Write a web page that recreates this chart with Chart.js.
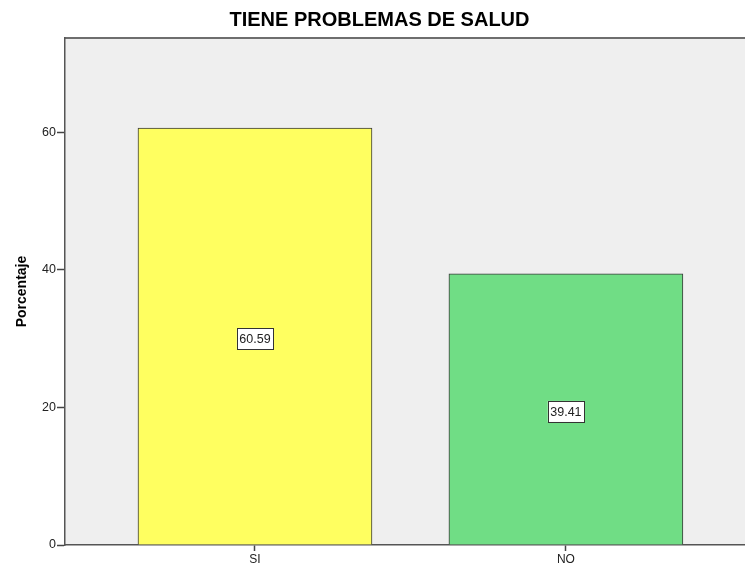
<!DOCTYPE html>
<html lang="es">
<head>
<meta charset="UTF-8">
<title>TIENE PROBLEMAS DE SALUD</title>
<script src="https://cdn.jsdelivr.net/npm/chart.js@4"></script>
<style>
  html, body { margin: 0; padding: 0; background: #fff; overflow: hidden; }
  #wrap { width: 745px; height: 570px; position: relative; }
</style>
</head>
<body>
<div id="wrap"><canvas id="chart"></canvas></div>
<script>
// data
const categories = ['SI', 'NO'];
const percentages = [60.59, 39.41];
const barColors = ['#FFFF60', '#70DD85'];
const yTicks = [0, 20, 40, 60];

// plot background + top frame line (SPSS style)
const plotFrame = {
  id: 'plotFrame',
  beforeDraw(chart) {
    const { ctx, chartArea: a } = chart;
    ctx.save();
    ctx.fillStyle = '#EFEFEF';
    ctx.fillRect(a.left, a.top, a.right - a.left, a.bottom - a.top);
    ctx.strokeStyle = '#6E6E6E';
    ctx.lineWidth = 2;
    ctx.beginPath();
    ctx.moveTo(a.left, a.top);
    ctx.lineTo(a.right, a.top);
    ctx.stroke();
    ctx.restore();
  }
};

// boxed value labels centred in each bar
const boxLabels = {
  id: 'boxLabels',
  afterDatasetsDraw(chart) {
    const { ctx } = chart;
    const meta = chart.getDatasetMeta(0);
    const yScale = chart.scales.y;
    ctx.save();
    ctx.font = '12.5px "Liberation Sans", Arial, sans-serif';
    ctx.textAlign = 'center';
    ctx.textBaseline = 'middle';
    meta.data.forEach((bar, i) => {
      const txt = percentages[i].toFixed(2);
      const cx = bar.x;
      const cy = yScale.getPixelForValue(percentages[i] / 2) + 2;
      const w = ctx.measureText(txt).width + 5;
      const h = 21;
      ctx.fillStyle = '#fff';
      ctx.fillRect(cx - w / 2, cy - h / 2, w, h);
      ctx.strokeStyle = '#333';
      ctx.lineWidth = 1;
      ctx.strokeRect(Math.round(cx - w / 2) + 0.5, Math.round(cy - h / 2) + 0.5, Math.round(w), h);
      ctx.fillStyle = '#222';
      ctx.fillText(txt, cx, cy + 1);
    });
    ctx.restore();
  }
};

new Chart(document.getElementById('chart'), {
  type: 'bar',
  data: {
    datasets: [{
      data: percentages.map((v, i) => ({ x: i, y: v })),
      backgroundColor: barColors,
      borderColor: '#3A3A3A',
      borderWidth: 1,
      barThickness: 234
    }]
  },
  options: {
    responsive: true,
    maintainAspectRatio: false,
    animation: false,
    layout: { padding: { left: 14, right: 0, top: 0, bottom: 0 } },
    plugins: {
      legend: { display: false },
      tooltip: { enabled: false },
      title: {
        display: true,
        text: 'TIENE PROBLEMAS DE SALUD',
        color: '#000',
        font: { family: '"Liberation Sans", Arial, sans-serif', size: 20, weight: 'bold', lineHeight: 1.2 },
        padding: { top: 8, bottom: 6 }
      }
    },
    scales: {
      x: {
        type: 'linear',
        offset: false,
        min: -0.611,
        max: 1.576,
        afterBuildTicks(scale) { scale.ticks = categories.map((c, i) => ({ value: i })); },
        afterFit(scale) { scale.height = 25; },
        ticks: {
          callback: (v) => categories[v],
          color: '#222',
          font: { family: '"Liberation Sans", Arial, sans-serif', size: 12 },
          padding: 1,
          maxRotation: 0
        },
        grid: { offset: false, drawOnChartArea: false, drawTicks: true, tickLength: 6, tickColor: '#444', tickWidth: 1.5 },
        border: { color: '#555', width: 1.5 }
      },
      y: {
        min: 0,
        max: 73.7,
        afterBuildTicks(scale) { scale.ticks = yTicks.map(v => ({ value: v })); },
        afterFit(scale) { scale.width = 51; },
        ticks: {
          color: '#222',
          font: { family: '"Liberation Sans", Arial, sans-serif', size: 12.5 },
          padding: 1
        },
        grid: { drawOnChartArea: false, drawTicks: true, tickLength: 8, tickColor: '#444', tickWidth: 1.5 },
        border: { color: '#555', width: 1.5 },
        title: {
          display: true,
          text: 'Porcentaje',
          color: '#000',
          font: { family: '"Liberation Sans", Arial, sans-serif', size: 14, weight: 'bold' },
          padding: { top: 0, bottom: 0 }
        }
      }
    }
  },
  plugins: [plotFrame, boxLabels]
});
</script>
</body>
</html>
